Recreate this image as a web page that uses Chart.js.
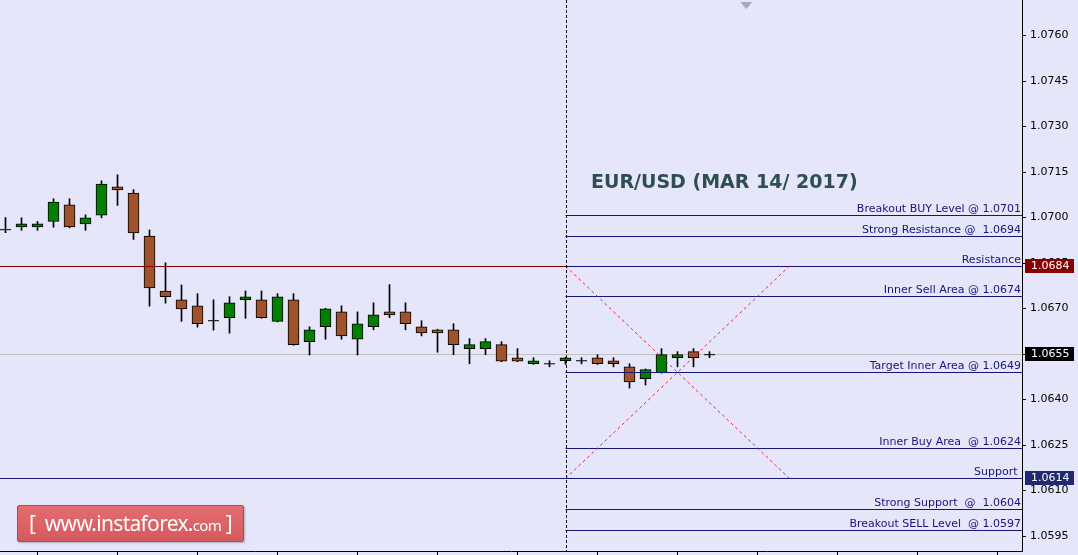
<!DOCTYPE html>
<html>
<head>
<meta charset="utf-8">
<script src="https://cdn.jsdelivr.net/npm/chart.js@4.4.1/dist/chart.umd.min.js"></script>
<style>
    html, body { margin: 0; padding: 0; background: #e6e6fa; overflow: hidden; }
    #wrap { position: relative; width: 1078px; height: 555px; }
    #logo {
        position: absolute; left: 17px; top: 505px; width: 225px; height: 35px;
        background: linear-gradient(#e46d71, #d4595e);
        border: 1px solid #b9464c; border-radius: 2px;
        box-shadow: 1px 1px 2px rgba(0, 0, 0, 0.25);
        color: #fff; font-family: 'Noto Sans', sans-serif; font-size: 21px;
        line-height: 35px; text-align: center; letter-spacing: -0.7px;
    }
    #logo span { font-size: 15px; }
</style>
</head>
<body>
<div id="wrap">
    <canvas id="chart" width="1078" height="555"></canvas>
    <div id="logo">[ &nbsp;www.instaforex.<span>com</span> ]</div>
</div>
<script>
// EUR/USD H1 candles
const opens  = [1.06960, 1.06969, 1.06969, 1.06987, 1.07042, 1.06979, 1.07008, 1.07101, 1.07081, 1.06939,
                1.06758, 1.06729, 1.06709, 1.06660, 1.06670, 1.06729, 1.06729, 1.06658, 1.06729, 1.06591,
                1.06640, 1.06689, 1.06599, 1.06640, 1.06689, 1.06689, 1.06640, 1.06630, 1.06630, 1.06568,
                1.06568, 1.06581, 1.06538, 1.06518, 1.06518, 1.06528, 1.06528, 1.06538, 1.06528, 1.06508,
                1.06469, 1.06489, 1.06538, 1.06558, 1.06548];
const highs  = [1.07000, 1.06999, 1.06987, 1.07062, 1.07062, 1.07009, 1.07121, 1.07141, 1.07092, 1.06959,
                1.06851, 1.06778, 1.06749, 1.06729, 1.06739, 1.06758, 1.06758, 1.06749, 1.06749, 1.06640,
                1.06701, 1.06709, 1.06689, 1.06719, 1.06779, 1.06719, 1.06660, 1.06632, 1.06650, 1.06601,
                1.06601, 1.06591, 1.06568, 1.06538, 1.06528, 1.06540, 1.06538, 1.06548, 1.06538, 1.06518,
                1.06501, 1.06568, 1.06558, 1.06568, 1.06558];
const lows   = [1.06950, 1.06958, 1.06958, 1.06968, 1.06966, 1.06958, 1.06999, 1.07040, 1.06928, 1.06708,
                1.06718, 1.06658, 1.06639, 1.06629, 1.06619, 1.06668, 1.06668, 1.06656, 1.06579, 1.06547,
                1.06599, 1.06599, 1.06547, 1.06630, 1.06670, 1.06630, 1.06610, 1.06556, 1.06548, 1.06518,
                1.06548, 1.06525, 1.06525, 1.06516, 1.06508, 1.06516, 1.06518, 1.06516, 1.06508, 1.06438,
                1.06448, 1.06487, 1.06508, 1.06508, 1.06538];
const closes = [1.06960, 1.06979, 1.06979, 1.07051, 1.06969, 1.06999, 1.07110, 1.07091, 1.06949, 1.06768,
                1.06739, 1.06699, 1.06650, 1.06660, 1.06719, 1.06739, 1.06670, 1.06739, 1.06581, 1.06630,
                1.06699, 1.06610, 1.06650, 1.06679, 1.06679, 1.06650, 1.06620, 1.06620, 1.06581, 1.06581,
                1.06591, 1.06527, 1.06527, 1.06528, 1.06518, 1.06538, 1.06528, 1.06518, 1.06518, 1.06458,
                1.06499, 1.06548, 1.06548, 1.06538, 1.06548];

// levels drawn from the day's start candle to the right edge
const levelValues = [1.0701, 1.0694, 1.0684, 1.0674, 1.0649, 1.0624, 1.0614, 1.0604, 1.0597];
const levelLabels = ['Breakout BUY Level @ 1.0701', 'Strong Resistance @  1.0694', 'Resistance',
                     'Inner Sell Area @ 1.0674', 'Target Inner Area @ 1.0649', 'Inner Buy Area  @ 1.0624',
                     'Support ', 'Strong Support  @  1.0604', 'Breakout SELL Level  @ 1.0597'];
const resistance = 1.0684;
const support = 1.0614;
const bidPrice = 1.0655;
const dayStart = 35;      // candle index of the dashed separator
const crossEnd = 49;      // where the dashed X ends
const shiftMarker = 46.3;

const yTicks = [1.0595, 1.0610, 1.0625, 1.0640, 1.0655, 1.0670, 1.0685, 1.0700, 1.0715, 1.0730, 1.0745, 1.0760];
const xTicks = [2, 7, 12, 17, 22, 27, 32, 37, 42, 47, 52, 57, 62];
const axisMarks = [resistance, bidPrice, support];
const axisMarkColors = ['#8a0000', '#000000', '#1f2a70'];

const title = 'EUR/USD (MAR 14/ 2017)';

const GREEN = '#008000';
const BROWN = '#a0522d';
const NAVY = '#15157a';

function crisp(v) {
    return Math.round(v) + 0.5;
}

function hline(ctx, x1, x2, y, color) {
    ctx.strokeStyle = color;
    ctx.beginPath();
    ctx.moveTo(x1, crisp(y));
    ctx.lineTo(x2, crisp(y));
    ctx.stroke();
}

// no edge padding: the plot runs right to the canvas border
function noPad(s) {
    s.paddingTop = 0;
    s.paddingBottom = 0;
    s.paddingLeft = 0;
    s.paddingRight = 0;
}

const overlay = {
    id: 'overlay',
    beforeDatasetsDraw(chart) {
        const { ctx, chartArea: a, scales: { y } } = chart;
        ctx.save();
        ctx.lineWidth = 1;
        hline(ctx, a.left, a.right, y.getPixelForValue(bidPrice), '#c0c0c0');
        ctx.restore();
    },
    afterDatasetsDraw(chart) {
        const { ctx, chartArea: a, scales: { x, y } } = chart;
        const x0 = x.getPixelForValue(dayStart);
        ctx.save();
        ctx.lineWidth = 1;

        // full width resistance / support
        hline(ctx, a.left, a.right, y.getPixelForValue(resistance), '#800000');
        hline(ctx, a.left, a.right, y.getPixelForValue(support), NAVY);

        // levels
        levelValues.forEach(v => hline(ctx, x0, a.right, y.getPixelForValue(v), NAVY));

        // dashed X
        ctx.strokeStyle = 'rgba(235, 20, 40, 0.9)';
        ctx.setLineDash([3, 3]);
        const x1 = x.getPixelForValue(crossEnd);
        const yr = y.getPixelForValue(resistance);
        const ys = y.getPixelForValue(support);
        ctx.beginPath();
        ctx.moveTo(x0, yr); ctx.lineTo(x1, ys);
        ctx.moveTo(x0, ys); ctx.lineTo(x1, yr);
        ctx.stroke();

        // day separator
        ctx.strokeStyle = '#000';
        ctx.setLineDash([3, 2]);
        ctx.beginPath();
        ctx.moveTo(crisp(x0), a.top);
        ctx.lineTo(crisp(x0), a.bottom);
        ctx.stroke();
        ctx.setLineDash([]);

        // level labels
        ctx.fillStyle = NAVY;
        ctx.font = '11px "DejaVu Sans"';
        ctx.textAlign = 'right';
        ctx.textBaseline = 'alphabetic';
        levelValues.forEach((v, i) => {
            ctx.fillText(levelLabels[i], a.right - 1, Math.round(y.getPixelForValue(v)) - 3);
        });

        // title
        ctx.fillStyle = '#2f4f4f';
        ctx.font = 'bold 19px "DejaVu Sans"';
        ctx.textAlign = 'left';
        ctx.fillText(title, a.left + 591, a.top + 188);

        // shift marker
        const xm = x.getPixelForValue(shiftMarker);
        ctx.fillStyle = '#a8a8b8';
        ctx.beginPath();
        ctx.moveTo(xm - 6, a.top + 2);
        ctx.lineTo(xm + 6, a.top + 2);
        ctx.lineTo(xm, a.top + 9);
        ctx.closePath();
        ctx.fill();
        ctx.restore();
    },
    afterDraw(chart) {
        const { ctx, chartArea: a, scales: { y } } = chart;
        ctx.save();
        ctx.font = '11px "DejaVu Sans"';
        ctx.textAlign = 'left';
        ctx.textBaseline = 'middle';
        axisMarks.forEach((v, i) => {
            const py = Math.round(y.getPixelForValue(v));
            ctx.fillStyle = axisMarkColors[i];
            ctx.fillRect(a.right + 3, py - 7, 49, 14);
            ctx.fillStyle = '#fff';
            ctx.fillText(v.toFixed(4), a.right + 9, py + 0.5);
        });
        ctx.restore();
    }
};

const idx = opens.map((_, i) => i);
const dojis = idx.filter(i => opens[i] === closes[i]);

new Chart(document.getElementById('chart'), {
    data: {
        datasets: [
            {
                type: 'bar',
                label: 'wicks',
                data: idx.map(i => ({ x: i, y: [lows[i], highs[i]] })),
                backgroundColor: '#000',
                barThickness: 1,
                grouped: false,
                order: 3
            },
            {
                type: 'bar',
                label: 'bodies',
                data: idx.map(i => ({ x: i, y: [opens[i], closes[i]] })),
                backgroundColor: idx.map(i => closes[i] > opens[i] ? GREEN : BROWN),
                borderColor: '#000',
                borderWidth: 1,
                borderSkipped: false,
                barThickness: 11,
                grouped: false,
                order: 2
            },
            {
                type: 'scatter',
                label: 'doji',
                data: dojis.map(i => ({ x: i, y: opens[i] })),
                pointStyle: 'line',
                pointRadius: 5.5,
                borderColor: '#000',
                borderWidth: 1,
                order: 1
            }
        ]
    },
    options: {
        responsive: false,
        animation: false,
        events: [],
        layout: { padding: 0, autoPadding: false },
        plugins: {
            legend: { display: false },
            tooltip: { enabled: false }
        },
        scales: {
            x: {
                type: 'linear',
                min: -5.5 / 16,
                max: -5.5 / 16 + 1022 / 16,
                offset: false,
                afterBuildTicks: s => { s.ticks = xTicks.map(v => ({ value: v })); },
                afterFit: s => { s.height = 4; noPad(s); },
                ticks: { display: false },
                grid: { offset: false, drawOnChartArea: false, tickLength: 4, color: '#000' },
                border: { color: '#000' }
            },
            y: {
                position: 'right',
                min: 1.05901,
                max: 1.07717,
                afterBuildTicks: s => { s.ticks = yTicks.map(v => ({ value: v })); },
                afterFit: s => { s.width = 56; noPad(s); },
                ticks: {
                    color: '#000',
                    padding: 4,
                    font: { family: 'DejaVu Sans', size: 11 },
                    callback: v => v.toFixed(4)
                },
                grid: { drawOnChartArea: false, tickLength: 4, color: '#000' },
                border: { color: '#000' }
            }
        }
    },
    plugins: [overlay]
});
</script>
</body>
</html>
